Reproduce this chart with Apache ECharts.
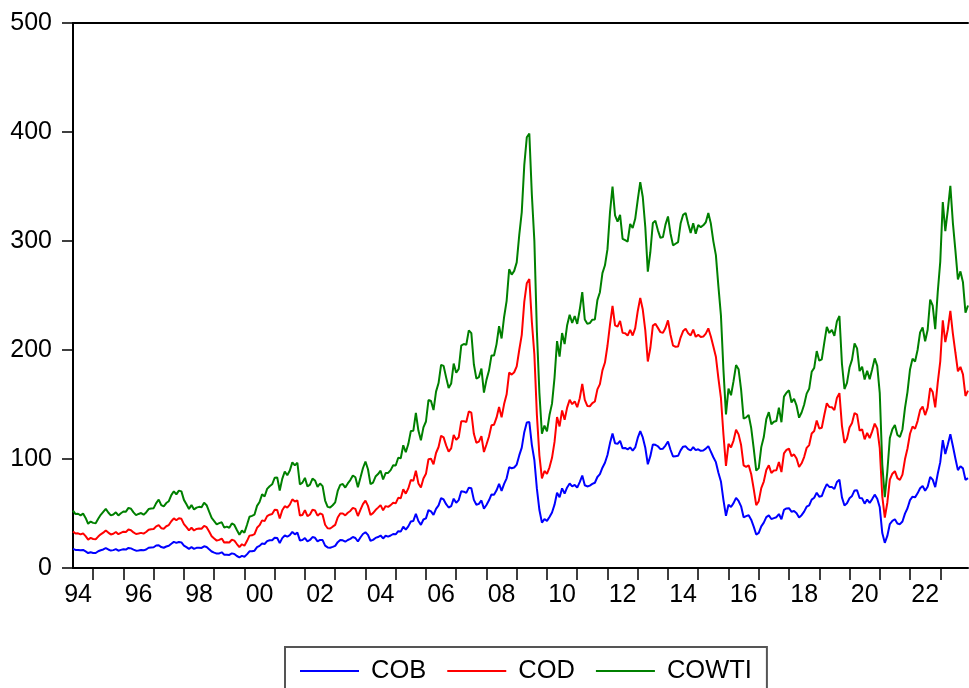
<!DOCTYPE html>
<html>
<head>
<meta charset="utf-8">
<script src="https://cdn.jsdelivr.net/npm/echarts@6/dist/echarts.min.js"></script>
<style>
html,body{margin:0;padding:0;background:#ffffff;}
#chart{width:969px;height:688px;}
</style>
</head>
<body>
<div id="chart"></div>
<script>
// Monthly observations, first month May 1994, last month Dec 2023 (stacked lines)
const cob = [17.6,16.6,16.6,16.2,16.6,15.2,13.7,
14.5,13.8,13.8,15.4,16.3,17.0,18.3,17.0,16.0,16.4,17.3,15.9,
16.6,17.2,16.9,18.4,18.0,16.9,15.9,16.1,16.6,16.2,17.0,18.6,
18.9,19.0,20.6,20.9,19.2,18.6,19.7,20.4,22.3,24.0,23.0,23.9,
23.5,20.6,19.2,17.6,19.1,17.6,18.5,18.6,18.4,19.9,19.2,17.1,
15.1,14.1,13.2,13.4,14.4,12.2,12.1,12.0,13.4,12.9,11.0,9.8,
11.1,10.3,12.5,15.3,15.3,15.9,19.1,20.3,22.5,22.0,24.6,25.5,
25.5,27.8,27.5,22.8,27.4,29.8,28.7,30.2,33.1,30.9,32.5,25.3,
25.6,27.5,24.5,25.7,28.4,27.7,24.5,25.8,25.6,20.5,18.9,18.6,
19.4,20.3,23.7,25.7,25.4,24.1,25.7,26.7,28.4,27.5,24.3,28.0,
31.2,32.8,30.4,25.0,25.8,27.6,28.4,29.8,27.1,29.6,28.8,29.8,
31.2,30.9,33.8,33.4,37.9,35.2,38.2,42.7,43.2,49.8,43.1,39.6,
44.5,45.5,53.1,51.9,48.7,54.3,57.5,64.1,62.9,58.5,55.5,56.7,
63.6,59.9,62.3,70.4,70.0,68.9,73.7,73.2,62.5,58.0,58.8,62.0,
54.5,57.8,62.1,67.5,67.2,71.3,77.2,70.8,77.1,82.3,92.5,91.5,
92.2,94.9,103.3,110.4,124.6,133.5,133.9,113.0,99.1,72.8,53.2,41.6,
44.9,43.2,46.8,50.9,58.1,69.1,65.0,73.1,68.2,73.9,77.5,74.9,
76.2,73.8,78.8,84.8,75.9,74.8,75.6,77.1,78.2,83.5,86.1,92.0,
96.5,103.7,114.6,123.3,114.5,113.9,116.7,109.8,110.1,108.8,110.6,107.7,
110.6,119.3,125.5,119.8,110.3,95.2,102.6,113.4,113.0,111.7,109.1,109.5,
112.3,116.1,108.5,102.3,102.6,102.9,107.9,111.3,111.6,109.1,107.8,110.8,
108.1,108.9,107.5,107.8,109.5,111.8,106.8,101.6,97.1,87.4,79.4,62.3,
47.8,58.1,56.0,59.5,64.3,61.5,56.6,46.5,47.6,48.4,44.3,38.0,
30.7,32.2,38.2,41.6,46.7,48.3,44.9,45.8,46.6,49.5,44.7,53.3,
54.6,54.9,51.6,52.3,50.3,46.4,48.5,51.7,56.2,57.5,62.7,64.4,
69.1,65.3,66.0,72.1,76.9,74.4,74.3,72.5,78.9,81.0,64.8,57.4,
59.4,64.0,66.1,71.2,71.3,64.2,63.9,59.0,62.8,59.7,63.2,67.3,
63.6,55.7,32.0,23.1,29.4,40.3,43.2,44.7,40.9,40.2,42.7,49.9,
54.8,62.3,65.4,64.8,68.5,73.2,75.2,70.8,74.5,83.5,81.1,74.2,
86.5,97.1,117.3,104.6,113.3,122.7,111.9,100.5,89.8,93.3,91.4,80.9,
82.5];

const cod = [15.9,15.0,15.2,14.6,15.2,14.0,12.4,
13.1,12.8,12.6,13.4,14.6,15.4,16.2,15.5,14.8,15.0,15.7,15.1,
15.6,16.1,16.2,16.9,16.7,15.7,15.3,15.5,15.6,15.3,16.0,16.5,
16.7,16.8,17.6,18.4,17.3,17.5,18.6,19.0,20.6,21.5,20.8,21.7,
21.6,19.7,18.3,16.9,17.8,16.8,17.3,17.6,17.6,18.7,18.2,16.3,
14.1,12.9,11.9,12.4,12.6,11.1,11.6,11.4,12.5,12.2,11.0,9.4,
10.7,10.1,12.2,14.4,14.7,15.2,17.8,19.0,21.2,21.0,23.0,23.4,
24.1,25.6,25.7,22.6,25.6,26.9,26.7,28.0,29.9,30.1,29.6,22.8,
23.1,25.6,23.0,23.4,25.0,25.0,23.5,24.3,23.3,19.2,17.6,17.6,
18.5,19.2,22.6,24.3,24.6,24.2,25.0,25.6,26.8,26.8,23.4,25.3,
27.4,29.0,26.6,23.6,24.5,25.6,27.0,27.9,25.8,27.2,27.3,27.9,
28.7,28.4,30.6,30.6,34.4,33.0,34.8,38.0,36.9,39.4,34.5,34.2,
37.7,40.9,46.7,48.3,46.4,51.2,53.5,57.2,56.9,54.0,51.3,53.1,
58.5,57.6,57.7,64.2,64.7,65.0,69.9,69.3,60.6,56.9,57.2,58.9,
51.9,55.5,58.6,63.5,64.3,66.6,70.5,67.4,73.3,77.0,86.8,85.9,
87.4,90.1,96.7,103.5,119.6,127.8,131.2,112.9,96.9,67.7,49.9,40.5,
44.1,43.1,45.6,50.2,57.6,69.4,64.9,71.5,67.8,73.2,76.9,75.4,
76.7,73.7,76.9,84.0,78.4,73.9,72.8,74.1,74.6,80.4,82.6,89.3,
92.0,100.2,108.7,117.2,108.1,107.6,110.0,105.9,105.2,104.4,107.8,105.6,
109.5,116.3,122.3,117.3,107.7,94.3,99.2,109.0,111.0,108.6,107.3,106.2,
107.9,111.1,105.5,101.7,100.4,100.3,103.5,106.1,107.8,106.3,105.6,107.9,
104.0,105.0,104.4,104.5,105.5,108.0,105.6,101.6,96.7,86.6,76.6,60.2,
45.9,55.8,54.7,57.4,62.6,61.1,56.2,47.7,45.1,45.8,41.9,34.6,
26.9,29.1,35.1,37.7,43.2,45.9,42.3,43.7,43.1,47.8,43.3,51.9,
53.7,54.6,51.0,51.9,50.1,46.3,47.6,50.1,54.0,55.3,60.7,61.3,
66.2,62.7,62.7,68.3,74.3,73.3,73.2,72.3,77.2,79.4,65.6,57.3,
59.1,64.9,66.9,70.9,69.4,61.8,63.3,59.1,61.1,59.4,62.1,65.1,
64.3,54.2,33.7,23.2,30.5,40.7,43.3,44.1,41.5,40.7,43.0,49.8,
54.8,60.9,64.4,62.9,66.3,71.6,72.9,69.5,72.6,81.6,80.3,73.2,
83.5,92.4,110.0,102.6,105.6,113.1,103.2,97.2,90.6,91.2,86.3,76.9,
80.2];

const cowti = [19.1,17.9,18.0,17.5,18.1,16.7,14.5,
15.0,14.8,14.7,16.4,17.9,19.1,19.7,18.4,17.5,17.7,18.1,17.2,
18.0,18.5,18.6,19.9,19.7,18.4,17.3,18.0,18.2,17.4,18.0,19.0,
18.9,19.1,21.3,23.5,21.2,20.4,21.3,21.9,24.0,24.9,23.7,25.4,
25.2,22.2,21.0,19.7,20.8,19.2,19.6,19.9,19.8,21.3,20.2,18.3,
16.7,16.1,15.0,15.4,14.9,13.7,14.2,13.5,15.0,14.4,12.9,11.3,
12.5,12.0,14.7,17.3,17.8,17.9,20.1,21.3,23.9,22.6,25.0,26.1,
27.2,29.4,29.9,25.7,28.8,31.8,29.7,31.2,33.9,33.1,34.4,28.5,
29.6,29.6,27.2,27.4,28.6,27.6,26.4,27.4,26.2,22.2,19.6,19.3,
19.7,20.7,24.4,26.3,27.0,25.5,26.9,28.4,29.7,28.9,26.3,29.4,
32.9,35.9,33.6,28.3,28.1,30.7,30.8,31.6,28.3,30.3,31.1,32.1,
34.3,34.7,36.7,36.7,40.3,38.0,40.7,44.9,45.9,53.1,48.5,43.3,
46.8,48.0,54.3,53.0,49.8,56.3,58.7,65.0,65.6,62.4,58.3,59.4,
65.5,61.6,62.7,69.4,70.8,70.9,74.4,73.0,63.8,58.9,59.1,62.0,
54.5,59.3,60.4,64.0,63.5,67.5,74.1,72.4,79.9,85.8,94.8,91.7,
93.0,95.4,105.4,112.6,125.4,133.9,133.4,116.7,104.1,76.6,57.3,41.1,
41.7,39.1,47.9,49.7,59.0,69.6,64.1,71.0,69.4,75.7,78.0,74.5,
78.3,76.4,81.2,84.3,73.7,75.3,76.3,76.6,75.2,81.9,84.3,89.2,
89.2,88.6,102.9,109.5,100.9,96.3,97.3,86.3,85.5,86.3,97.2,98.6,
100.3,102.2,106.2,103.3,94.7,82.3,87.9,94.1,94.5,89.5,86.5,87.9,
94.8,95.3,92.9,92.0,94.5,95.8,104.6,106.6,106.3,100.5,93.9,97.6,
94.6,100.8,100.8,102.1,102.2,105.8,103.6,96.5,93.2,84.4,75.8,59.3,
47.2,50.6,47.8,54.5,59.3,59.8,50.9,42.9,45.5,46.2,42.4,37.2,
31.7,30.3,37.6,40.8,46.7,48.8,44.7,44.7,45.2,49.8,45.7,52.0,
52.5,53.5,49.3,51.1,48.5,45.2,46.6,48.0,49.8,51.6,56.6,57.9,
63.7,62.2,62.7,66.3,70.0,67.9,71.0,68.1,70.2,70.8,57.0,49.5,
51.4,55.0,58.2,63.9,60.8,54.7,57.4,54.8,57.0,54.0,57.0,59.9,
57.5,50.5,29.2,18.7,28.6,38.3,40.7,42.3,39.6,39.4,41.4,47.0,
52.0,59.0,62.3,61.7,65.2,71.4,72.5,67.7,71.5,81.2,79.2,71.7,
83.2,91.6,108.5,101.8,109.6,114.8,101.6,93.7,84.3,87.6,84.4,76.4,
78.1];

const seriesNames = ['COB', 'COD', 'COWTI'];
const seriesValues = [cob, cod, cowti];
const seriesColors = ['#0000FF', '#FF0000', '#008000'];
const yTickValues = [0, 100, 200, 300, 400, 500];
const firstYear = 1994, firstMonth = 5;

// monthly category labels "YYYY-MM"
const months = [];
for (let i = 0; i < cob.length; i++) {
  const m = firstMonth - 1 + i;
  const y = firstYear + Math.floor(m / 12);
  const mm = (m % 12) + 1;
  months.push(y + '-' + (mm < 10 ? '0' : '') + mm);
}

const FONT = "'Liberation Sans', Arial, sans-serif";
const chart = echarts.init(document.getElementById('chart'), null, {renderer: 'canvas'});

const option = {
  animation: false,
  backgroundColor: '#ffffff',
  grid: {left: 73, right: 1, top: 23, bottom: 120, containLabel: false},
  xAxis: [{
    type: 'category',
    data: months,
    boundaryGap: false,
    axisLine: {show: true, lineStyle: {color: '#000', width: 2}},
    axisTick: {
      show: true, inside: false, length: 12,
      interval: function (idx, val) { return val.slice(5) === '01'; },
      lineStyle: {color: '#000', width: 1.5}
    },
    axisLabel: {
      show: true,
      interval: function (idx, val) { return val.slice(5) === '07' && (+val.slice(0, 4)) % 2 === 0; },
      formatter: function (val) { return val.slice(2, 4); },
      fontSize: 25, fontFamily: FONT, color: '#000', margin: 15
    },
    splitLine: {show: false}
  }, {
    type: 'category',
    data: months,
    boundaryGap: false,
    position: 'top',
    axisLine: {show: true, lineStyle: {color: '#000', width: 2}},
    axisTick: {show: false},
    axisLabel: {show: false},
    splitLine: {show: false}
  }],
  yAxis: {
    type: 'value',
    min: yTickValues[0],
    max: yTickValues[yTickValues.length - 1],
    interval: yTickValues[1] - yTickValues[0],
    axisLine: {show: true, lineStyle: {color: '#000', width: 2}},
    axisTick: {show: true, inside: false, length: 11, lineStyle: {color: '#000', width: 1.5}},
    axisLabel: {fontSize: 25, fontFamily: FONT, color: '#000', margin: 21, padding: [0, 0, 12, 0]},
    splitLine: {show: false}
  },
  legend: {
    data: seriesNames,
    left: 285,
    top: 647,
    orient: 'horizontal',
    icon: 'rect',
    itemWidth: 59,
    itemHeight: 2,
    itemGap: 21,
    padding: [11, 15, 30, 15],
    borderColor: '#555',
    borderWidth: 2,
    textStyle: {fontSize: 25.5, fontFamily: FONT, color: '#000', lineHeight: 24, padding: [0, 0, 0, 7]}
  },
  series: seriesNames.map(function (name, i) {
    return {
      name: name,
      type: 'line',
      stack: 'total',
      data: seriesValues[i],
      showSymbol: false,
      symbol: 'none',
      color: seriesColors[i],
      lineStyle: {color: seriesColors[i], width: 2},
      emphasis: {disabled: true}
    };
  })
};
chart.setOption(option);
</script>
</body>
</html>
